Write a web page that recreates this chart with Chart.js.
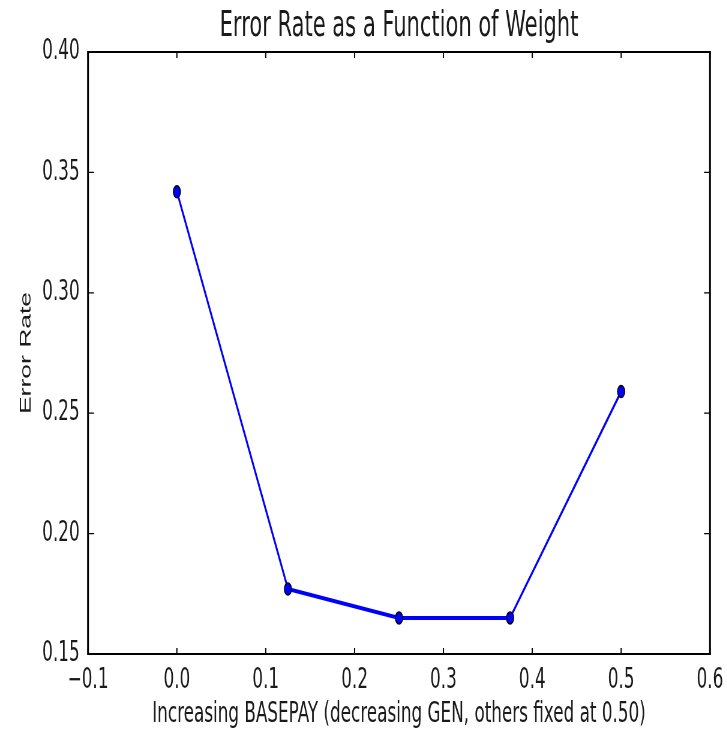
<!DOCTYPE html>
<html>
<head>
<meta charset="utf-8">
<script src="https://cdn.jsdelivr.net/npm/chart.js@4"></script>
<style>
  html, body { margin: 0; padding: 0; background: #fff; overflow: hidden; }
  /* the reference is a wide figure squeezed sideways, so draw wide and squeeze */
  #chart { transform: scaleX(0.6); transform-origin: 0 0; }
</style>
</head>
<body>
<canvas id="chart" width="1212" height="736"></canvas>
<script>
// data
const weights = [0.0, 0.125, 0.25, 0.375, 0.5];
const errorRates = [0.342, 0.177, 0.165, 0.165, 0.259];
const xTicks = [-0.1, 0.0, 0.1, 0.2, 0.3, 0.4, 0.5, 0.6];
const yTicks = [0.15, 0.20, 0.25, 0.30, 0.35, 0.40];
const chartTitle = 'Error Rate as a Function of Weight';

function fmt(v, d) {
    return v.toFixed(d).replace('-', '\u2212');
}

// frame + inward ticks on all four sides, like matplotlib classic,
// and the title centred over the plot rather than the canvas
const framePlugin = {
    id: 'frame',
    afterDraw(chart) {
        const ctx = chart.ctx;
        const a = chart.chartArea;
        const xs = chart.scales.x, ys = chart.scales.y;
        ctx.save();
        ctx.strokeStyle = '#000';
        ctx.lineWidth = 2;
        xTicks.forEach(v => {
            const px = xs.getPixelForValue(v);
            ctx.beginPath();
            ctx.moveTo(px, a.bottom); ctx.lineTo(px, a.bottom - 6);
            ctx.moveTo(px, a.top); ctx.lineTo(px, a.top + 6);
            ctx.stroke();
        });
        ctx.lineWidth = 1.2;
        yTicks.forEach(v => {
            const py = ys.getPixelForValue(v);
            ctx.beginPath();
            ctx.moveTo(a.left, py); ctx.lineTo(a.left + 10, py);
            ctx.moveTo(a.right, py); ctx.lineTo(a.right - 10, py);
            ctx.stroke();
        });
        // horizontal edges
        ctx.lineWidth = 2;
        ctx.beginPath();
        ctx.moveTo(a.left, a.top); ctx.lineTo(a.right, a.top);
        ctx.moveTo(a.left, a.bottom); ctx.lineTo(a.right, a.bottom);
        ctx.stroke();
        // vertical edges (get squeezed, so thicker here)
        ctx.lineWidth = 3;
        ctx.beginPath();
        ctx.moveTo(a.left, a.top - 1); ctx.lineTo(a.left, a.bottom + 1);
        ctx.moveTo(a.right, a.top - 1); ctx.lineTo(a.right, a.bottom + 1);
        ctx.stroke();

        ctx.fillStyle = '#1a1a1a';
        ctx.font = '35px "DejaVu Sans"';
        ctx.textAlign = 'center';
        ctx.textBaseline = 'middle';
        ctx.fillText(chartTitle, (a.left + a.right) / 2, 27);
        ctx.restore();
    }
};

const ctx = document.getElementById('chart').getContext('2d');
new Chart(ctx, {
    type: 'line',
    data: {
        datasets: [{
            label: 'Error Rate',
            data: weights.map((w, i) => ({ x: w, y: errorRates[i] })),
            borderColor: '#0000ff',
            borderWidth: 3,
            pointBackgroundColor: '#0000ff',
            pointBorderColor: '#000',
            pointBorderWidth: 1.5,
            pointRadius: 6,
            tension: 0,
            fill: false,
            segment: {
                borderWidth: s => (s.p0.parsed.x >= 0.12 && s.p1.parsed.x <= 0.38) ? 4 : 3
            }
        }]
    },
    options: {
        responsive: false,
        animation: false,
        layout: { padding: { left: 0, right: 28.7, top: 52, bottom: 0 } },
        scales: {
            x: {
                type: 'linear',
                min: -0.1,
                max: 0.6,
                grid: { display: false },
                border: { display: false },
                afterBuildTicks: s => { s.ticks = xTicks.map(v => ({ value: v })); },
                afterFit: s => { s.height = 82; },
                ticks: {
                    padding: 2,
                    maxRotation: 0,
                    color: '#1a1a1a',
                    font: { family: 'DejaVu Sans', size: 28 },
                    callback: v => fmt(v, 1)
                },
                title: {
                    display: true,
                    text: 'Increasing BASEPAY (decreasing GEN, others fixed at 0.50)',
                    color: '#1a1a1a',
                    font: { family: 'DejaVu Sans', size: 28 },
                    padding: { top: 0, bottom: 4 }
                }
            },
            y: {
                type: 'linear',
                min: 0.15,
                max: 0.40,
                grid: { display: false },
                border: { display: false },
                afterBuildTicks: s => { s.ticks = yTicks.map(v => ({ value: v })); },
                afterFit: s => { s.width = 146.7; },
                ticks: {
                    padding: 6,
                    color: '#1a1a1a',
                    font: { family: 'DejaVu Sans', size: 28 },
                    callback: v => fmt(v, 2)
                },
                title: {
                    display: true,
                    text: 'Error Rate',
                    color: '#1a1a1a',
                    font: { family: 'Liberation Sans', size: 26.5 },
                    padding: { top: 28, bottom: 0 }
                }
            }
        },
        plugins: {
            legend: { display: false },
            tooltip: { enabled: false },
            title: { display: false }
        }
    },
    plugins: [framePlugin]
});
</script>
</body>
</html>
